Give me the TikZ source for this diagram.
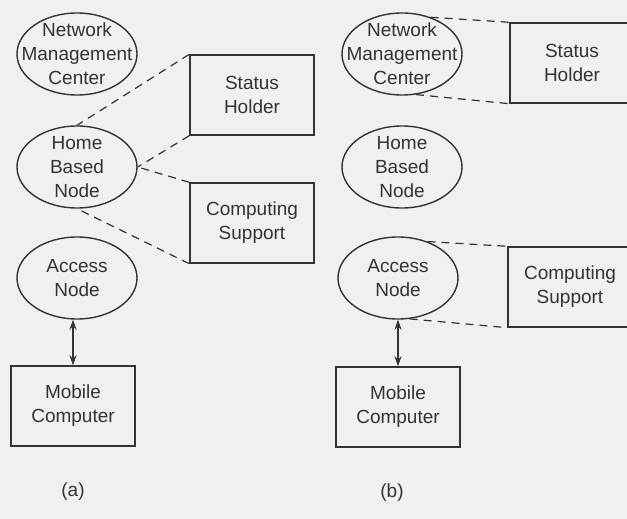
\documentclass[tikz,border=0pt]{standalone}
\usepackage{fontspec}
\setmainfont{Liberation Sans}
\usetikzlibrary{shapes.geometric,arrows.meta,positioning}
\definecolor{paper}{HTML}{F0F0EE}
\definecolor{ink}{HTML}{333333}
\tikzset{
  txt/.style={text=ink,font=\fontsize{9.5}{12}\selectfont,align=center},
  blob/.style={ellipse,draw=ink,line width=0.7pt,minimum width=60pt,minimum height=41pt,inner sep=0pt,
    label={[txt]center:#1}},
  unit/.style={rectangle,draw=ink,line width=0.7pt,minimum width=62pt,minimum height=40pt,txt},
  link/.style={draw=ink,line width=0.6pt,dash pattern=on 4pt off 3pt}
}
\begin{document}
\begin{tikzpicture}[x=0.5pt,y=-0.5pt,on grid,>={Stealth[length=5pt,width=3.5pt]}]
  \fill[paper] (0,0) rectangle (627,519);
  \useasboundingbox (0,0) rectangle (627,519);
  \clip (0,0) rectangle (627,519);

  % (a)
  \node[blob={Network\\Management\\Center}] (nmcA) at (77,54) {};
  \node[blob={Home\\Based\\Node}] (hbnA) [below=56.5pt of nmcA] {};
  \node[blob={Access\\Node}] (anA) [below=55.5pt of hbnA] {};
  \node[unit] (mcA) [below=64pt of anA, xshift=-2pt] {Mobile\\Computer};
  \node[unit] (shA) [above right=36pt and 87.5pt of hbnA] {Status\\Holder};
  \node[unit] (csA) [below right=28pt and 87.5pt of hbnA] {Computing\\Support};
  \node[txt] (capA) [below=43pt of mcA] {(a)};

  \draw[link] (shA.north west) -- (hbnA.north);
  \draw[link] (shA.south west) -- (hbnA.east);
  \draw[link] (csA.north west) -- (hbnA.east);
  \draw[link] (csA.south west) -- (hbnA.south);
  \draw[<->,ink,line width=0.7pt] (mcA.north |- anA.south) -- (mcA.north);

  % (b)
  \node[blob={Network\\Management\\Center}] (nmcB) [right=162.5pt of nmcA] {};
  \node[blob={Home\\Based\\Node}] (hbnB) [below=56.5pt of nmcB] {};
  \node[blob={Access\\Node}] (anB) [below=55.5pt of hbnB, xshift=-2pt] {};
  \node[unit] (mcB) [below=64.5pt of anB] {Mobile\\Computer};
  \node[unit] (shB) [below right=4.5pt and 85pt of nmcB] {Status\\Holder};
  \node[unit] (csB) [below right=4.5pt and 86pt of anB] {Computing\\Support};
  \node[txt] (capB) [below=43pt of mcB, xshift=-3pt] {(b)};

  \draw[link] (nmcB.52) -- (shB.north west);
  \draw[link] (nmcB.-71) -- (shB.south west);
  \draw[link] (anB.51) -- (csB.north west);
  \draw[link] (anB.-74) -- (csB.south west);
  \draw[<->,ink,line width=0.7pt] (anB) -- (mcB);
\end{tikzpicture}
\end{document}
